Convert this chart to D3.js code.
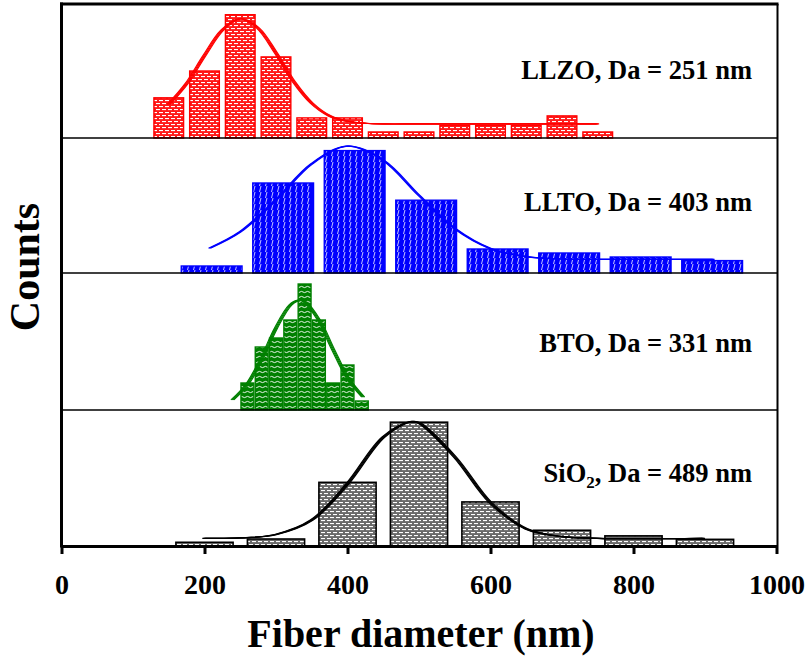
<!DOCTYPE html>
<html><head><meta charset="utf-8">
<script src="https://cdn.jsdelivr.net/npm/d3@7"></script>
<style>
body{margin:0;background:#fff}
svg{display:block}
text{font-family:"Liberation Serif","Times New Roman",serif;font-weight:bold;fill:#000}
</style>
</head><body>
<svg id="c" width="809" height="658"></svg>
<script>
// ---------- data ----------
const xTicks = [0, 200, 400, 600, 800, 1000];

const llzoBins   = [150, 200, 250, 300, 350, 400, 450, 500, 550, 600, 650, 700, 750];
const llzoCounts = [6, 10, 18.4, 12.1, 3, 3, 0.9, 0.9, 1.9, 1.9, 1.9, 3.3, 0.9];
const llzoFitX   = [150, 175, 200, 225, 250, 275, 300, 325, 350, 375, 400, 425, 450, 500, 600, 750];
const llzoFitY   = [5.0, 8.1, 12.3, 16.1, 17.8, 16.4, 12.7, 8.4, 5.2, 3.3, 2.5, 2.2, 2.1, 2.1, 2.1, 2.1];

const lltoBins   = [210, 310, 410, 510, 610, 710, 810, 910];
const lltoCounts = [1.75, 22.5, 30.6, 18.2, 6, 5, 4, 3.1];
const lltoFitX   = [207, 250, 300, 350, 400, 450, 500, 550, 600, 650, 700, 750, 912];
const lltoFitY   = [6.2, 10.3, 18.3, 27.3, 31.7, 28.2, 19.4, 11.1, 6.1, 4.1, 3.5, 3.4, 3.4];

const btoBins    = [260, 280, 300, 320, 340, 360, 380, 400, 420];
const btoCounts  = [3, 7, 8, 10, 14, 10, 3, 5, 1];
const btoFitX    = [239, 260, 280, 300, 320, 333, 340, 360, 380, 400, 422];
const btoFitY    = [1.12, 2.89, 5.7, 9.1, 11.65, 12.2, 12.04, 10.0, 6.7, 3.6, 1.43];

const sioBins    = [200, 300, 400, 500, 600, 700, 800, 900];
const sioCounts  = [1.06, 2, 18.2, 35.4, 12.6, 4.5, 2.9, 1.9];
const sioFitX    = [199, 250, 300, 350, 400, 450, 489, 500, 550, 600, 650, 700, 750, 898];
const sioFitY    = [2.2, 2.3, 3.3, 7.4, 17.8, 31.1, 35.6, 35.2, 25.5, 12.4, 4.9, 2.7, 2.2, 2.2];

const panelNames = ["LLZO", "LLTO", "BTO", "SiO2"];
const panelDa    = [251, 403, 331, 489];
const panelYMax  = [20, 33.75, 15, 38.6];
const binWidths  = [50, 100, 20, 100];

// ---------- layout ----------
const svg = d3.select("#c");
const X0 = 61.5, X1 = 776.5;
const x = d3.scaleLinear().domain([0, 1000]).range([X0, X1]);
const bands = [[138, 4], [273, 138], [410, 275], [546, 411]];
const colors = ["#ff0000", "#0000ff", "#008000", "#000000"];
const barFrac = [0.83, 0.85, 0.9, 0.8];
const penOffsets = [[-1.6,-0.6,0.4,1.4],[-1,0,1],[-1.5,-0.5,0.5,1.5],[-1.5,-0.5,0.5,1.5]];
const labelY = [79, 211, 352, 482];

// ---------- patterns ----------
const defs = svg.append("defs");
function pat(id, w, h, bg, draw){
  const p = defs.append("pattern").attr("id", id).attr("patternUnits","userSpaceOnUse")
    .attr("width", w).attr("height", h);
  p.append("rect").attr("width", w).attr("height", h).attr("fill", bg);
  draw(p);
}
pat("pLLZO", 6, 6, "#ff1a1a", p => {
  p.append("rect").attr("x",0).attr("y",1).attr("width",4).attr("height",1.1).attr("fill","#fff");
  p.append("rect").attr("x",3).attr("y",4).attr("width",4).attr("height",1.1).attr("fill","#fff");
  p.append("rect").attr("x",-3).attr("y",4).attr("width",4).attr("height",1.1).attr("fill","#fff");
});
pat("pLLTO", 6, 6, "#0000ff", p => {
  p.append("path").attr("d","M1.5,6 L3,0").attr("stroke","#fff").attr("stroke-width",0.9).attr("stroke-opacity",0.85);
});
pat("pBTO", 6, 5, "#008000", p => {
  p.append("path").attr("d","M0,2 q1.5,-1.2 3,0 q1.5,1.2 3,0").attr("stroke","#fff").attr("fill","none").attr("stroke-width",0.9);
});
pat("pSiO2", 6, 6, "#6a6a6a", p => {
  p.append("rect").attr("x",0).attr("y",1).attr("width",4).attr("height",1.1).attr("fill","#fff");
  p.append("rect").attr("x",3).attr("y",4).attr("width",4).attr("height",1.1).attr("fill","#fff");
  p.append("rect").attr("x",-3).attr("y",4).attr("width",4).attr("height",1.1).attr("fill","#fff");
});
const patIds = ["pLLZO","pLLTO","pBTO","pSiO2"];

const series = [
  {bins: llzoBins, counts: llzoCounts, fx: llzoFitX, fy: llzoFitY},
  {bins: lltoBins, counts: lltoCounts, fx: lltoFitX, fy: lltoFitY},
  {bins: btoBins,  counts: btoCounts,  fx: btoFitX,  fy: btoFitY},
  {bins: sioBins,  counts: sioCounts,  fx: sioFitX,  fy: sioFitY}
];

series.forEach((s, i) => {
  const y = d3.scaleLinear().domain([0, panelYMax[i]]).range(bands[i]);
  const g = svg.append("g");
  const bw = binWidths[i] * barFrac[i];
  g.selectAll("rect").data(s.bins.map((b, k) => ({b, c: s.counts[k]}))).join("rect")
    .attr("x", d => x(d.b - bw/2))
    .attr("width", d => x(d.b + bw/2) - x(d.b - bw/2))
    .attr("y", d => y(d.c))
    .attr("height", d => y(0) - y(d.c))
    .attr("fill", `url(#${patIds[i]})`)
    .attr("stroke", colors[i])
    .attr("stroke-width", i === 3 ? 1.6 : 1.4);
  const line = d3.line().x(d => x(d[0])).y(d => y(d[1])).curve(d3.curveCatmullRom);
  const pts = s.fx.map((v, k) => [v, s.fy[k]]);
  penOffsets[i].forEach(dx => {
    g.append("path").attr("d", line(pts)).attr("transform", `translate(${dx},0)`)
      .attr("fill","none").attr("stroke", colors[i]).attr("stroke-width", 1.2);
  });
  // label
  const t = svg.append("text").attr("x", 752).attr("y", labelY[i]).attr("text-anchor","end")
    .attr("font-size", 26.5);
  if (panelNames[i] === "SiO2") {
    t.append("tspan").text("SiO");
    t.append("tspan").text("2").attr("font-size", 17).attr("dy", 6);
    t.append("tspan").text(`, Da = ${panelDa[i]} nm`).attr("dy", -6);
  } else {
    t.text(`${panelNames[i]}, Da = ${panelDa[i]} nm`);
  }
});

// ---------- frame & dividers ----------
[138, 273, 410].forEach(yy => {
  svg.append("line").attr("x1", X0).attr("x2", 777.5).attr("y1", yy).attr("y2", yy)
    .attr("stroke","#000").attr("stroke-width",1.6);
});
svg.append("line").attr("x1", X0-1.5).attr("x2", 778.5).attr("y1", 4).attr("y2", 4).attr("stroke","#000").attr("stroke-width",3);
svg.append("line").attr("x1", 777.5).attr("x2", 777.5).attr("y1", 4).attr("y2", 546).attr("stroke","#000").attr("stroke-width",2);
svg.append("line").attr("x1", X0).attr("x2", X0).attr("y1", 2.5).attr("y2", 547.5).attr("stroke","#000").attr("stroke-width",3);

// ---------- bottom axis ----------
const ax = svg.append("g").attr("transform","translate(0,546)")
  .call(d3.axisBottom(x).tickValues(xTicks).tickSize(8).tickSizeOuter(0).tickPadding(20).tickFormat(d3.format("d")));
ax.select(".domain").attr("stroke","#000").attr("stroke-width",3.2);
ax.selectAll(".tick line").attr("stroke","#000").attr("stroke-width",3);
ax.selectAll(".tick text").attr("font-size", 28).attr("font-family",'"Liberation Serif","Times New Roman",serif').attr("font-weight","bold").attr("fill","#000");

// ---------- axis titles ----------
svg.append("text").attr("x", 421).attr("y", 647).attr("text-anchor","middle").attr("font-size", 40).text("Fiber diameter (nm)");
svg.append("text").attr("transform","translate(39,267) rotate(-90)").attr("text-anchor","middle").attr("font-size", 42).text("Counts");
</script>
</body></html>
